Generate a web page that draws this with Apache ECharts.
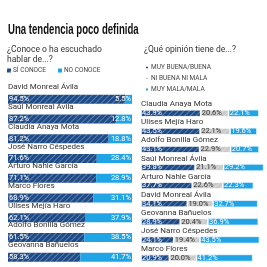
<!DOCTYPE html>
<html>
<head>
<meta charset="utf-8">
<script src="https://cdn.jsdelivr.net/npm/echarts@6/dist/echarts.min.js"></script>
<style>
html,body{margin:0;padding:0;background:#fff;}
#main{width:267px;height:267px;}
</style>
</head>
<body>
<div id="main"></div>
<script>
// izquierda: ¿Conoce o ha escuchado hablar de...?
let leftNames = ['David Monreal Ávila','Saúl Monreal Ávila','Claudia Anaya Mota','José Narro Céspedes','Arturo Nahle García','Marco Flores','Ulises Mejía Haro','Adolfo Bonilla Gómez','Geovanna Bañuelos'];
let siConoce = [94.5,87.2,81.2,71.6,71.1,68.9,62.1,61.5,58.3];
let noConoce = [5.5,12.8,18.8,28.4,28.9,31.1,37.9,38.5,41.7];
// derecha: ¿Qué opinión tiene de...?
let rightNames = ['Claudia Anaya Mota','Ulises Mejía Haro','Adolfo Bonilla Gómez','Saúl Monreal Ávila','Arturo Nahle García','David Monreal Ávila','Geovanna Bañuelos','José Narro Céspedes','Marco Flores'];
let buena = [43.9,43.5,43.1,39.8,37.7,34.1,28.9,24.1,20.9];
let niBuena = [20.6,22.1,22.9,21.1,22.6,19.0,20.4,19.4,20.0];
let mala = [22.1,19.6,20.7,29.2,22.3,32.7,36.9,43.5,41.2];

let ff = "Roboto,'Liberation Sans',sans-serif";
let dark = '#1d4b88';
let blue = '#20a4e6';
let gray = '#cacaca';
let stripes = {symbol:'rect',symbolSize:1,dashArrayX:[1,0],dashArrayY:[1,3],rotation:-Math.PI/4,color:'rgba(255,255,255,0.3)'};
let pct = function(p){ return p.value.toFixed(1) + '%'; };

function nameAxis(idx, names, pad){
    return {
        type:'category', gridIndex:idx, data:names, inverse:true,
        axisLine:{show:false}, axisTick:{show:false},
        axisLabel:{inside:true, margin:0, align:'left', verticalAlign:'bottom',
            padding:[0,0,pad,0], fontSize:8, color:'#333', fontFamily:ff},
        z:10
    };
}

let chart = echarts.init(document.getElementById('main'));
let option = {
    animation:false,
    graphic:[
        {type:'text', x:8, y:22, scaleX:0.64,
            style:{text:'Una tendencia poco definida', font:"bold 15px 'Liberation Sans'", fill:'#111'}}
    ],
    title:[
        {text:'¿Conoce o ha escuchado\nhablar de...?', left:7, top:45, padding:0,
            textStyle:{fontSize:8.5, fontWeight:'normal', color:'#333', fontFamily:ff, lineHeight:10}},
        {text:'¿Qué opinión tiene de...?', left:144, top:45, padding:0,
            textStyle:{fontSize:8.5, fontWeight:'normal', color:'#333', fontFamily:ff}}
    ],
    legend:[
        {data:['SÍ CONOCE','NO CONOCE'], left:7, top:67, padding:0, itemWidth:4, itemHeight:4, itemGap:12,
            icon:'rect', textStyle:{fontSize:6.5, color:'#444', fontFamily:ff, padding:[0,0,0,-3]}},
        {data:['MUY BUENA/BUENA','NI BUENA NI MALA','MUY MALA/MALA'], orient:'vertical', left:144, top:64, padding:0,
            itemWidth:4, itemHeight:4, itemGap:4, icon:'rect',
            textStyle:{fontSize:6.5, color:'#444', fontFamily:ff, padding:[0,0,0,-3]}}
    ],
    grid:[
        {left:8, width:124, top:89.5, height:199},
        {left:141, width:122.4, top:104.2, height:167.4}
    ],
    xAxis:[
        {type:'value', gridIndex:0, min:0, max:100, show:false},
        {type:'value', gridIndex:1, min:0, max:90, show:false}
    ],
    yAxis:[nameAxis(0, leftNames, 8), nameAxis(1, rightNames, 5)],
    series:[
        {name:'SÍ CONOCE', type:'bar', stack:'a', xAxisIndex:0, yAxisIndex:0, barWidth:9,
            data:siConoce, itemStyle:{color:dark, decal:stripes},
            label:{show:true, position:'insideLeft', distance:1, color:'#fff', fontSize:7.5, fontFamily:ff, formatter:pct}},
        {name:'NO CONOCE', type:'bar', stack:'a', xAxisIndex:0, yAxisIndex:0, barWidth:9,
            data:noConoce, itemStyle:{color:blue},
            label:{show:true, position:'insideRight', distance:1, color:'#fff', fontSize:7.5, fontFamily:ff, formatter:pct}},
        {name:'MUY BUENA/BUENA', type:'bar', stack:'b', xAxisIndex:1, yAxisIndex:1, barWidth:7,
            data:buena, itemStyle:{color:dark, decal:stripes, borderColor:'#fff', borderWidth:0.6},
            label:{show:true, position:'insideLeft', distance:1, color:'#fff', fontSize:7.5, fontFamily:ff, formatter:pct}},
        {name:'NI BUENA NI MALA', type:'bar', stack:'b', xAxisIndex:1, yAxisIndex:1, barWidth:7,
            data:niBuena, itemStyle:{color:gray, decal:stripes, borderColor:'#fff', borderWidth:0.6},
            label:{show:true, position:'insideLeft', distance:1, color:'#333', fontSize:7.5, fontFamily:ff, formatter:pct}},
        {name:'MUY MALA/MALA', type:'bar', stack:'b', xAxisIndex:1, yAxisIndex:1, barWidth:7,
            data:mala, itemStyle:{color:blue, borderColor:'#fff', borderWidth:0.6},
            label:{show:true, position:'insideLeft', distance:1, color:'#fff', fontSize:7.5, fontFamily:ff, formatter:pct}}
    ]
};
chart.setOption(option);
</script>
</body>
</html>
